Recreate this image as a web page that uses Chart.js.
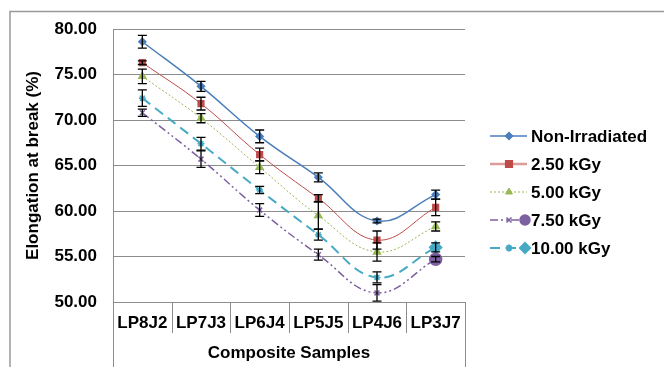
<!DOCTYPE html>
<html>
<head>
<meta charset="utf-8">
<script src="https://cdn.jsdelivr.net/npm/chart.js@4"></script>
<style>
  html, body { margin: 0; padding: 0; background: #fff; }
  #wrap { width: 664px; height: 367px; position: relative; }
</style>
</head>
<body>
<div id="wrap"><canvas id="chart"></canvas></div>
<script>
const categories = ['LP8J2', 'LP7J3', 'LP6J4', 'LP5J5', 'LP4J6', 'LP3J7'];
const seriesNames = ['Non-Irradiated', '2.50 kGy', '5.00 kGy', '7.50 kGy', '10.00 kGy'];

const nonIrradiated = [78.6, 73.7, 68.2, 63.7, 58.9, 61.8];
const kGy250 = [76.3, 71.8, 66.2, 61.4, 56.8, 60.4];
const kGy500 = [74.8, 70.2, 64.8, 59.5, 55.5, 58.3];
const kGy750 = [70.8, 65.7, 60.1, 55.2, 51.0, 54.7];
const kGy1000 = [72.4, 67.4, 62.3, 57.4, 52.7, 56.0];

const errNonIrradiated = [0.7, 0.55, 0.7, 0.5, 0.2, 0.5];
const errKGy250 = [0.2, 0.7, 0.7, 0.4, 1.0, 0.9];
const errKGy500 = [0.8, 0.5, 0.7, 1.5, 1.0, 0.5];
const errKGy750 = [0.4, 0.9, 0.7, 0.6, 0.9, 0.3];
const errKGy1000 = [0.9, 0.7, 0.4, 0.6, 0.6, 0.5];

const yMin = 50, yMax = 80, yStep = 5;

const FONT = 'Arial, "Liberation Sans", sans-serif';
const GRAY = '#8c8c8c';

const seriesStyles = [
    { color: '#4a7ebb', width: 1.5, dash: [], point: 'rectRot', radius: 3.5 },
    { color: '#be4b48', width: 1, dash: [], point: 'rect', radius: 4 },
    { color: '#98b954', width: 1, dash: [2, 2], point: 'triangle', radius: 4 },
    { color: '#7d60a0', width: 1.5, dash: [8, 3, 2, 3, 2, 3], point: 'crossRot', radius: 3.5, lastPoint: 'circle', lastRadius: 6 },
    { color: '#46aac5', width: 2, dash: [10, 6], point: 'star', radius: 3.5, lastPoint: 'rectRot', lastRadius: 6 }
];

const allValues = [nonIrradiated, kGy250, kGy500, kGy750, kGy1000];
const allErrors = [errNonIrradiated, errKGy250, errKGy500, errKGy750, errKGy1000];

const datasets = allValues.map((vals, i) => {
    const s = seriesStyles[i];
    const n = vals.length;
    return {
        label: seriesNames[i],
        data: vals,
        borderColor: s.color,
        backgroundColor: s.color,
        borderWidth: s.width,
        borderDash: s.dash,
        tension: 0.4,
        fill: false,
        pointStyle: vals.map((v, j) => (j === n - 1 && s.lastPoint) ? s.lastPoint : s.point),
        pointRadius: vals.map((v, j) => (j === n - 1 && s.lastRadius) ? s.lastRadius : s.radius),
        pointBackgroundColor: s.color,
        pointBorderColor: s.color,
        pointBorderWidth: 1.5,
        errors: allErrors[i]
    };
});

// error bars, drawn with the chart's own scales
const errorBars = {
    id: 'errorBars',
    afterDatasetsDraw(chart) {
        const ctx = chart.ctx;
        const y = chart.scales.y;
        ctx.save();
        ctx.strokeStyle = '#000';
        ctx.lineWidth = 1.3;
        chart.data.datasets.forEach((ds, i) => {
            const meta = chart.getDatasetMeta(i);
            meta.data.forEach((pt, j) => {
                const e = ds.errors[j];
                const top = y.getPixelForValue(ds.data[j] + e);
                const bot = y.getPixelForValue(ds.data[j] - e);
                const x = pt.x;
                ctx.beginPath();
                ctx.moveTo(x, top); ctx.lineTo(x, bot);
                ctx.moveTo(x - 4.5, top); ctx.lineTo(x + 4.5, top);
                ctx.moveTo(x - 4.5, bot); ctx.lineTo(x + 4.5, bot);
                ctx.stroke();
            });
        });
        ctx.restore();
    }
};

// outer frame, category separators and legend
const decorations = {
    id: 'decorations',
    afterDraw(chart) {
        const ctx = chart.ctx;
        const area = chart.chartArea;
        const h = chart.height;
        ctx.save();
        ctx.strokeStyle = '#999';
        ctx.lineWidth = 1.5;
        ctx.beginPath();
        ctx.moveTo(10, h); ctx.lineTo(10, 11.5); ctx.lineTo(chart.width, 11.5);
        ctx.stroke();

        ctx.strokeStyle = GRAY;
        ctx.lineWidth = 1;
        const cw = (area.right - area.left) / categories.length;
        for (let i = 0; i <= categories.length; i++) {
            const x = Math.round(area.left + i * cw) + 0.5;
            const end = (i === 0 || i === categories.length) ? h : area.bottom + 31;
            ctx.beginPath();
            ctx.moveTo(x, area.bottom); ctx.lineTo(x, end);
            ctx.stroke();
        }

        // legend
        const lx = 490, tx = 531;
        let ly = 136;
        chart.data.datasets.forEach((ds, i) => {
            const s = seriesStyles[i];
            ctx.strokeStyle = s.color;
            ctx.lineWidth = s.width + (i === 1 ? 1.5 : 0);
            ctx.globalAlpha = i === 1 ? 0.55 : 1;
            ctx.setLineDash(s.dash);
            ctx.beginPath();
            ctx.moveTo(lx, ly); ctx.lineTo(lx + 37, ly);
            ctx.stroke();
            ctx.globalAlpha = 1;
            ctx.setLineDash([]);
            const opts = { pointStyle: s.point, radius: s.radius, borderWidth: 1.5 };
            ctx.fillStyle = s.color;
            ctx.strokeStyle = s.color;
            Chart.helpers.drawPoint(ctx, opts, lx + 19, ly);
            if (s.lastPoint) {
                Chart.helpers.drawPoint(ctx, { pointStyle: s.lastPoint, radius: 5, borderWidth: 1 }, lx + 35, ly);
            }
            ctx.fillStyle = '#000';
            ctx.font = 'bold 17px ' + FONT;
            ctx.textBaseline = 'middle';
            ctx.textAlign = 'left';
            ctx.fillText(ds.label, tx, ly + 1);
            ly += 28;
        });
        ctx.restore();
    }
};

const ctx = document.getElementById('chart').getContext('2d');
new Chart(ctx, {
    type: 'line',
    data: { labels: categories, datasets: datasets },
    plugins: [errorBars, decorations],
    options: {
        responsive: true,
        maintainAspectRatio: false,
        animation: false,
        layout: { padding: { left: 10, right: 199, top: 29, bottom: 0 } },
        plugins: {
            legend: { display: false },
            tooltip: { enabled: false }
        },
        scales: {
            x: {
                offset: true,
                grid: { display: false, drawTicks: false },
                border: { color: GRAY, width: 1 },
                afterFit: scale => { scale.height = 65; },
                ticks: {
                    color: '#000',
                    padding: 11,
                    maxRotation: 0,
                    autoSkip: false,
                    font: { family: FONT, size: 17, weight: 'bold' }
                },
                title: {
                    display: true,
                    text: 'Composite Samples',
                    color: '#000',
                    padding: { top: 0, bottom: 3 },
                    font: { family: FONT, size: 17, weight: 'bold' }
                }
            },
            y: {
                min: yMin,
                max: yMax,
                grid: { color: GRAY, drawTicks: false },
                border: { color: GRAY, width: 1 },
                afterFit: scale => { scale.width = 103; },
                ticks: {
                    stepSize: yStep,
                    color: '#000',
                    padding: 16,
                    callback: v => v.toFixed(2),
                    font: { family: FONT, size: 17, weight: 'bold' }
                },
                title: {
                    display: true,
                    text: 'Elongation at break (%)',
                    color: '#000',
                    padding: { top: 13, bottom: 0 },
                    font: { family: FONT, size: 17, weight: 'bold' }
                }
            }
        }
    }
});
</script>
</body>
</html>
